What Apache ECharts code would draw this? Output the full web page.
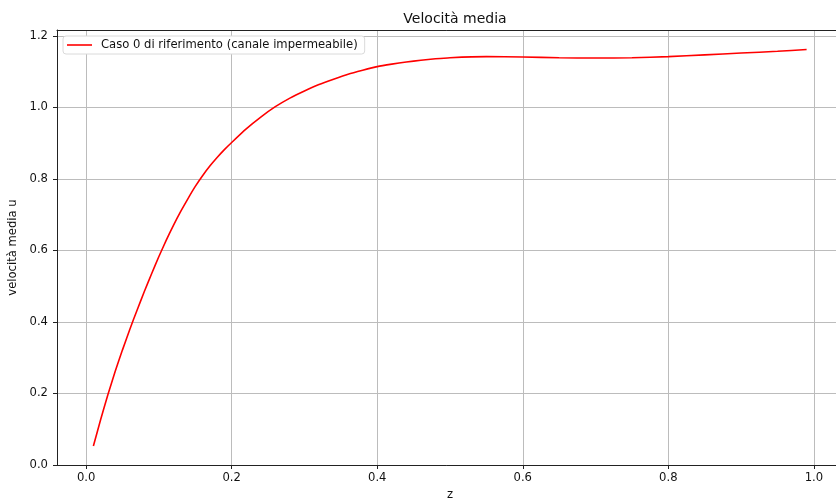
<!DOCTYPE html>
<html>
<head>
<meta charset="utf-8">
<script src="https://cdn.jsdelivr.net/npm/echarts@6/dist/echarts.min.js"></script>
<style>
html, body { margin: 0; padding: 0; background: #fff; }
#root { width: 836px; height: 500px; }
</style>
</head>
<body>
<div id="root"></div>
<script>
// z positions along the channel and mean velocity
var zValues = [0.01, 0.02, 0.03, 0.04, 0.05, 0.06, 0.07, 0.08, 0.09, 0.10,
	0.11, 0.12, 0.13, 0.14, 0.15, 0.16, 0.17, 0.18, 0.19, 0.20,
	0.22, 0.24, 0.26, 0.28, 0.30, 0.32, 0.34, 0.36, 0.38, 0.40,
	0.42, 0.44, 0.46, 0.48, 0.50, 0.55, 0.60, 0.65, 0.70, 0.75,
	0.80, 0.85, 0.90, 0.95, 0.99];
var uValues = [0.053, 0.127, 0.197, 0.262, 0.322, 0.379, 0.433, 0.485, 0.535, 0.583,
	0.628, 0.670, 0.709, 0.745, 0.779, 0.809, 0.836, 0.860, 0.882, 0.902,
	0.940, 0.973, 1.002, 1.026, 1.046, 1.064, 1.079, 1.093, 1.104, 1.114,
	1.121, 1.127, 1.132, 1.136, 1.139, 1.142, 1.141, 1.139, 1.138, 1.139,
	1.142, 1.147, 1.152, 1.157, 1.162];
var seriesName = 'Caso 0 di riferimento (canale impermeabile)';

var points = [];
for (var i = 0; i < zValues.length; i++) {
	points.push([zValues[i], uValues[i]]);
}

var font = 'DejaVu Sans';
var chart = echarts.init(document.getElementById('root'), null, { renderer: 'canvas' });

var option = {
	animation: false,
	backgroundColor: '#fff',
	title: {
		text: 'Velocità media',
		left: 450,
		textAlign: 'center',
		top: 7,
		textStyle: { fontFamily: font, fontSize: 14, fontWeight: 'normal', color: '#111' }
	},
	legend: {
		left: 63,
		top: 36,
		orient: 'vertical',
		padding: [3, 7, 3, 4],
		backgroundColor: '#fff',
		borderColor: '#dadada',
		borderWidth: 1,
		borderRadius: 3,
		itemWidth: 25,
		itemHeight: 1.6,
		icon: 'rect',
		textStyle: { fontFamily: font, fontSize: 11.6, color: '#111', padding: [0, 0, 0, 4] },
		data: [seriesName]
	},
	grid: { left: 57, top: 30, right: -7, bottom: 35, containLabel: false, outerBoundsMode: 'none' },
	xAxis: [{
		type: 'value',
		min: -0.04,
		max: 1.04,
		splitNumber: 5,
		name: 'z',
		nameLocation: 'middle',
		nameGap: 23,
		nameTextStyle: { fontFamily: font, fontSize: 11.6, color: '#111' },
		axisLine: { show: true, onZero: false, lineStyle: { color: '#222', width: 1 } },
		axisTick: { show: true, inside: false, length: 4, lineStyle: { color: '#222' } },
		axisLabel: {
			showMinLabel: false, showMaxLabel: false, margin: 7,
			fontFamily: font, fontSize: 11.6, color: '#111',
			formatter: function (v) { return v.toFixed(1); }
		},
		splitLine: { show: true, lineStyle: { color: '#bcbcbc', width: 1 } }
	}, {
		type: 'value',
		position: 'top',
		min: -0.04,
		max: 1.04,
		axisLine: { show: true, onZero: false, lineStyle: { color: '#222', width: 1 } },
		axisTick: { show: false },
		axisLabel: { show: false },
		splitLine: { show: false }
	}],
	yAxis: {
		type: 'value',
		min: 0,
		max: 1.2165,
		splitNumber: 6,
		name: 'velocità media u',
		nameLocation: 'middle',
		nameGap: 30,
		nameTextStyle: { fontFamily: font, fontSize: 11.6, color: '#111' },
		axisLine: { show: true, onZero: false, lineStyle: { color: '#222', width: 1 } },
		axisTick: { show: true, inside: false, length: 4, lineStyle: { color: '#222' } },
		axisLabel: {
			showMaxLabel: false, margin: 9,
			fontFamily: font, fontSize: 11.6, color: '#111',
			formatter: function (v) { return v.toFixed(1); }
		},
		splitLine: { show: true, lineStyle: { color: '#bcbcbc', width: 1 } }
	},
	series: [{
		name: seriesName,
		type: 'line',
		xAxisIndex: 0,
		data: points,
		smooth: 0.2,
		symbol: 'none',
		lineStyle: { color: '#ff0000', width: 1.6 },
		itemStyle: { color: '#ff0000' }
	}]
};

chart.setOption(option);
</script>
</body>
</html>
